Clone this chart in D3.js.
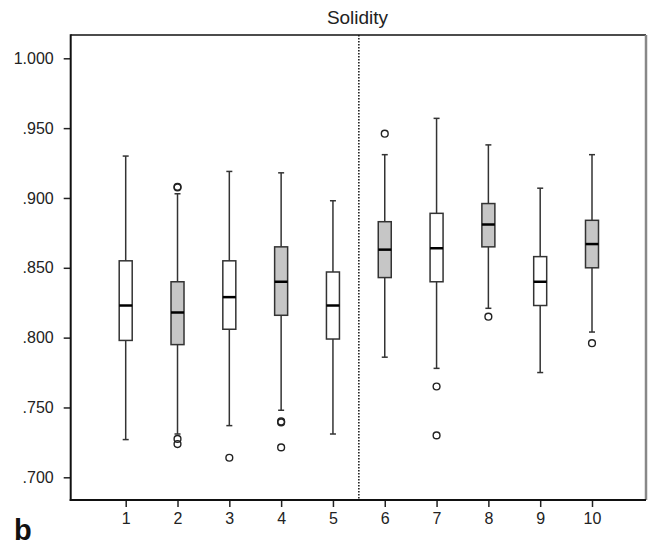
<!DOCTYPE html>
<html>
<head>
<meta charset="utf-8">
<script src="https://cdn.jsdelivr.net/npm/d3@7"></script>
<style>
  body { margin: 0; background: #fff; }
  svg { display: block; font-family: "Liberation Sans", Arial, sans-serif; }
</style>
</head>
<body>
<svg width="650" height="547"></svg>
<script>
// groups 1..10, odd = white box, even = grey box
const groups = [1, 2, 3, 4, 5, 6, 7, 8, 9, 10];
const whiskerHigh = [0.930, 0.903, 0.919, 0.918, 0.898, 0.931, 0.957, 0.938, 0.907, 0.931];
const q3 = [0.855, 0.840, 0.855, 0.865, 0.847, 0.883, 0.889, 0.896, 0.858, 0.884];
const medians = [0.823, 0.818, 0.829, 0.840, 0.823, 0.863, 0.864, 0.881, 0.840, 0.867];
const q1 = [0.798, 0.795, 0.806, 0.816, 0.799, 0.843, 0.840, 0.865, 0.823, 0.850];
const whiskerLow = [0.727, 0.731, 0.737, 0.748, 0.731, 0.786, 0.778, 0.821, 0.775, 0.804];
const outliers = [
  [],
  [0.908, 0.9075, 0.7275, 0.7238],
  [0.714],
  [0.740, 0.7393, 0.7214],
  [],
  [0.946],
  [0.765, 0.730],
  [0.815],
  [],
  [0.796]
];
const shaded = [false, true, false, true, false, true, false, true, false, true];
const yTicks = [0.700, 0.750, 0.800, 0.850, 0.900, 0.950, 1.000];
const divider = 5.5;

const svg = d3.select('svg');

// frame edges
const frameL = 70.7, frameR = 646, frameT = 35, frameB = 500;

const x = d3.scaleLinear().domain([1, 10]).range([125.7, 592]);
const y = d3.scaleLinear().domain([0.7, 1.0]).range([477.3, 58.3]);

const fmt = v => d3.format('.3f')(v).replace(/^0/, '');

// title
svg.append('text')
  .attr('x', 357.5).attr('y', 24)
  .attr('text-anchor', 'middle')
  .style('font-size', '19px')
  .attr('fill', '#222')
  .text('Solidity');

// frame lines
svg.append('line').attr('x1', frameL).attr('x2', frameR).attr('y1', frameT).attr('y2', frameT)
  .attr('stroke', '#111').attr('stroke-width', 1.5);
svg.append('line').attr('x1', frameR).attr('x2', frameR).attr('y1', frameT).attr('y2', frameB)
  .attr('stroke', '#888').attr('stroke-width', 2.5);

// y axis
const yAxis = svg.append('g').attr('transform', `translate(${frameL},0)`)
  .call(d3.axisLeft(y).tickValues(yTicks).tickFormat(fmt).tickSize(7).tickPadding(10));
yAxis.select('.domain').remove();
yAxis.selectAll('.tick line').attr('stroke', '#222').attr('stroke-width', 1.5);
yAxis.selectAll('.tick text').style('font-size', '16px').attr('fill', '#222')
  .style('font-family', '"Liberation Sans", Arial, sans-serif');

// x axis
const xAxis = svg.append('g').attr('transform', `translate(0,${frameB})`)
  .call(d3.axisBottom(x).tickValues(groups).tickFormat(d3.format('d')).tickSize(7).tickPadding(6));
xAxis.select('.domain').remove();
xAxis.selectAll('.tick line').attr('stroke', '#222').attr('stroke-width', 1.5);
xAxis.selectAll('.tick text').style('font-size', '16px').attr('fill', '#222')
  .style('font-family', '"Liberation Sans", Arial, sans-serif');

svg.append('line').attr('x1', frameL).attr('x2', frameL).attr('y1', frameT - 0.75).attr('y2', frameB + 1)
  .attr('stroke', '#111').attr('stroke-width', 2);
svg.append('line').attr('x1', frameL - 1).attr('x2', frameR).attr('y1', frameB).attr('y2', frameB)
  .attr('stroke', '#111').attr('stroke-width', 2);

// dotted divider
svg.append('line')
  .attr('x1', x(divider)).attr('x2', x(divider))
  .attr('y1', frameT).attr('y2', frameB)
  .attr('stroke', '#111').attr('stroke-width', 1.5)
  .attr('stroke-dasharray', '1.5,1.5');

const boxW = 13, capW = 6;

const box = svg.selectAll('.box')
  .data(groups)
  .enter().append('g')
  .attr('class', 'box');

// whiskers
box.append('line')
  .attr('x1', d => x(d)).attr('x2', d => x(d))
  .attr('y1', (d, i) => y(whiskerHigh[i])).attr('y2', (d, i) => y(q3[i]))
  .attr('stroke', '#333').attr('stroke-width', 1.5);
box.append('line')
  .attr('x1', d => x(d)).attr('x2', d => x(d))
  .attr('y1', (d, i) => y(q1[i])).attr('y2', (d, i) => y(whiskerLow[i]))
  .attr('stroke', '#333').attr('stroke-width', 1.5);
box.append('line')
  .attr('x1', d => x(d) - capW / 2).attr('x2', d => x(d) + capW / 2)
  .attr('y1', (d, i) => y(whiskerHigh[i])).attr('y2', (d, i) => y(whiskerHigh[i]))
  .attr('stroke', '#333').attr('stroke-width', 1.5);
box.append('line')
  .attr('x1', d => x(d) - capW / 2).attr('x2', d => x(d) + capW / 2)
  .attr('y1', (d, i) => y(whiskerLow[i])).attr('y2', (d, i) => y(whiskerLow[i]))
  .attr('stroke', '#333').attr('stroke-width', 1.5);

// boxes
box.append('rect')
  .attr('x', d => x(d) - boxW / 2)
  .attr('width', boxW)
  .attr('y', (d, i) => y(q3[i]))
  .attr('height', (d, i) => y(q1[i]) - y(q3[i]))
  .attr('fill', (d, i) => shaded[i] ? '#c6c6c6' : '#fff')
  .attr('stroke', '#333').attr('stroke-width', 1.5);

// medians
box.append('line')
  .attr('x1', d => x(d) - boxW / 2).attr('x2', d => x(d) + boxW / 2)
  .attr('y1', (d, i) => y(medians[i])).attr('y2', (d, i) => y(medians[i]))
  .attr('stroke', '#000').attr('stroke-width', 2.5);

// outliers
groups.forEach((g, i) => {
  svg.selectAll(null)
    .data(outliers[i])
    .enter().append('circle')
    .attr('cx', x(g))
    .attr('cy', d => y(d))
    .attr('r', 3.4)
    .attr('fill', 'none')
    .attr('stroke', '#222').attr('stroke-width', 1.4);
});

// panel label
svg.append('text')
  .attr('x', 14).attr('y', 540)
  .style('font-size', '29px').style('font-weight', 'bold')
  .attr('fill', '#111')
  .text('b');
</script>
</body>
</html>
